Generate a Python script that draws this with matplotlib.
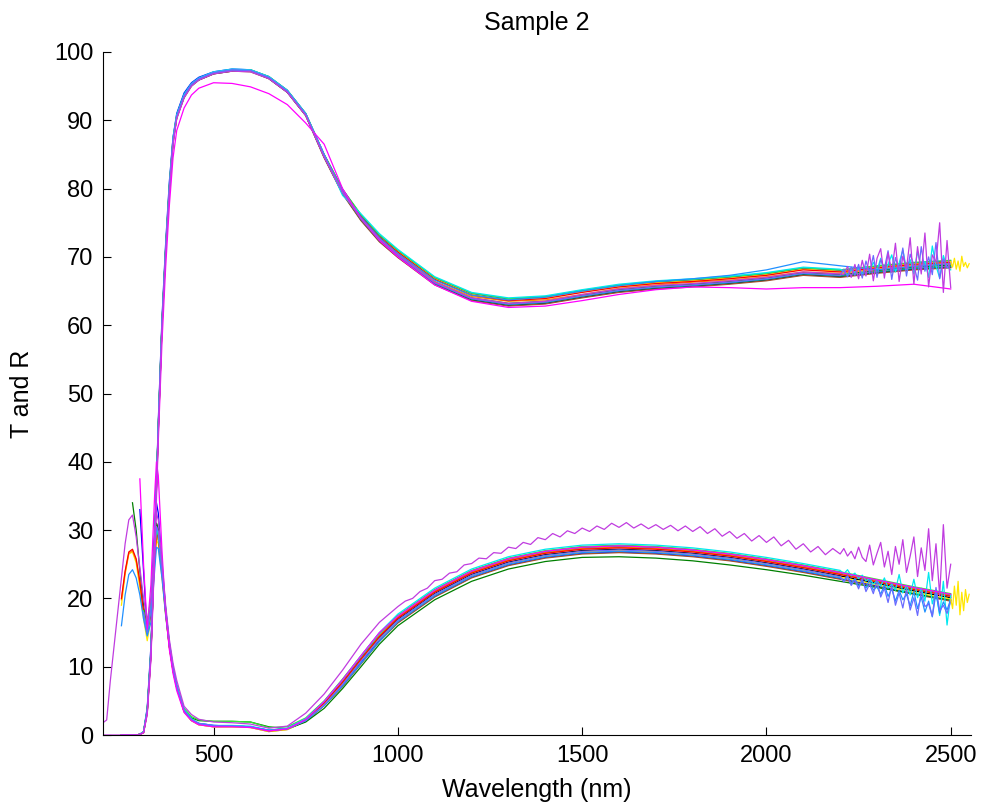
import numpy as np
import matplotlib
matplotlib.use('Agg')
import matplotlib.pyplot as plt

n = np.nan

# wavelength grid (nm)
W = [200, 210, 220, 230, 240, 250, 260, 270, 280, 290, 300, 310, 320, 330, 340, 345, 350,
     360, 370, 380, 390, 400, 420, 440, 460, 500, 550, 600, 650, 700, 750, 800, 850, 900,
     950, 1000, 1100, 1200, 1300, 1400, 1500, 1600, 1700, 1800, 1900, 2000, 2100, 2200,
     2300, 2400, 2500]
WT = list(range(2200, 2510, 10))   # noisy tail grid
WD = list(range(1000, 2210, 20))   # dense grid for the high purple reflectance
WY = list(range(2500, 2555, 5))    # yellow extension grid

Z = [n, n, n, n, n, 0, 0, 0, 0, 0, 0.1]

# ---------------- transmission ----------------
T_yellow = Z + [0.3, 3.3, 11.8, 27.6, 36.2, 44.7, 59.7, 70.7, 79.8, 86.8,
                90.4, 93.5, 95.1, 96.0, 96.9, 97.3, 97.2, 96.2, 94.2, 90.8,
                84.8, 79.6, 75.8, 72.9, 70.8, 66.8, 64.5, 63.7, 64.0, 64.9,
                65.7, 66.2, 66.5, 66.9, 67.4, 68.2, 67.9, 68.5, 69.0, 69.3]
T_orange = Z + [0.4, 3.5, 12.1, 28.1, 36.6, 45.1, 60.1, 71.1, 80.1, 87.1,
                90.6, 93.6, 95.2, 96.0, 96.9, 97.3, 97.3, 96.3, 94.3, 90.9,
                84.9, 79.7, 75.8, 72.8, 70.5, 66.4, 64.2, 63.5, 63.7, 64.5,
                65.4, 65.9, 66.3, 66.6, 67.1, 67.8, 67.6, 68.2, 68.7, 69.0]
T_red = Z + [0.4, 3.6, 12.2, 28.2, 36.6, 45.2, 60.2, 71.2, 80.2, 87.2,
             90.6, 93.6, 95.3, 96.1, 97.0, 97.4, 97.3, 96.3, 94.3, 90.9,
             84.9, 79.7, 75.9, 72.9, 70.7, 66.7, 64.4, 63.6, 63.9, 64.8,
             65.6, 66.1, 66.4, 66.8, 67.3, 68.1, 67.8, 68.4, 68.9, 69.2]
T_lime = Z + [0.5, 3.7, 12.4, 28.4, 36.9, 45.4, 60.4, 71.4, 80.4, 87.4,
              90.7, 93.7, 95.3, 96.1, 97.0, 97.4, 97.4, 96.4, 94.4, 91.0,
              85.0, 79.9, 76.2, 73.2, 71.0, 67.0, 64.7, 63.9, 64.2, 65.1,
              65.9, 66.4, 66.7, 67.1, 67.6, 68.4, 68.1, 68.7, 69.2, 69.5]
T_green = Z + [0.4, 3.5, 12.0, 27.5, 36.0, 44.5, 60.0, 71.0, 80.0, 87.0,
               90.5, 93.6, 95.2, 96.0, 96.9, 97.3, 97.2, 96.2, 94.2, 90.8,
               84.8, 79.5, 75.7, 72.6, 70.3, 66.3, 64.0, 63.2, 63.5, 64.4,
               65.2, 65.7, 66.0, 66.4, 66.9, 67.7, 67.4, 68.0, 68.5, 68.8]
T_teal = Z + [0.4, 3.5, 12.0, 28.0, 36.5, 45.0, 60.0, 71.0, 80.0, 87.0,
              90.5, 93.5, 95.2, 96.0, 96.9, 97.3, 97.3, 96.2, 94.2, 90.8,
              84.7, 79.4, 75.5, 72.4, 70.1, 66.1, 63.8, 63.0, 63.3, 64.2,
              65.0, 65.5, 65.8, 66.2, 66.7, 67.5, 67.2, 67.8, 68.3, 68.6]
T_brown = Z + [0.3, 3.2, 11.6, 27.4, 36.0, 44.5, 59.6, 70.6, 79.6, 86.6,
               90.3, 93.3, 95.0, 95.9, 96.8, 97.2, 97.1, 96.1, 94.1, 90.7,
               84.5, 79.2, 75.3, 72.2, 69.9, 65.9, 63.6, 62.8, 63.1, 64.0,
               64.8, 65.3, 65.6, 66.0, 66.5, 67.3, 67.0, 67.6, 68.1, 68.4]
T_cyan = Z + [0.5, 3.8, 12.5, 28.5, 37.0, 45.5, 60.5, 71.5, 80.5, 87.5,
              90.8, 93.8, 95.4, 96.2, 97.1, 97.5, 97.4, 96.4, 94.4, 91.0,
              85.0, 79.0, 76.3, 73.4, 71.1, 67.1, 64.8, 64.0, 64.3, 65.2,
              66.0, 66.5, 66.8, 67.2, 67.7, 68.5, 68.2, 68.7, 69.0, 69.2]
T_lblue = Z + [0.4, 3.5, 12.0, 28.0, 36.5, 45.0, 60.0, 71.0, 80.0, 87.0,
               90.5, 93.5, 95.2, 96.0, 96.9, 97.3, 97.3, 96.2, 94.2, 90.8,
               84.8, 79.6, 75.8, 72.8, 70.5, 66.6, 64.4, 63.7, 64.1, 65.0,
               65.8, 66.4, 66.8, 67.3, 68.1, 69.3, 68.7, 68.1, 68.6, 69.0]
T_peri = Z + [0.4, 3.6, 12.2, 28.2, 36.7, 45.2, 60.2, 71.2, 80.2, 87.2,
              90.6, 93.6, 95.3, 96.1, 97.0, 97.4, 97.3, 96.3, 94.3, 90.9,
              84.9, 79.6, 75.7, 72.6, 70.2, 66.2, 63.9, 63.1, 63.4, 64.3,
              65.1, 65.6, 65.9, 66.3, 66.8, 67.6, 67.3, 67.9, 68.4, 68.7]
T_black = Z + [0.4, 3.4, 11.8, 27.8, 36.3, 44.8, 59.8, 70.8, 79.8, 86.8,
               90.4, 93.4, 95.1, 95.9, 96.8, 97.2, 97.2, 96.1, 94.1, 90.7,
               84.6, 79.3, 75.4, 72.3, 70.0, 66.0, 63.7, 62.9, 63.2, 64.1,
               64.9, 65.4, 65.7, 66.1, 66.6, 67.4, 67.1, 67.7, 68.2, 68.5]
T_blue = Z + [0.5, 4.0, 13.0, 29.0, 37.0, 46.0, 61.0, 72.0, 81.0, 87.5,
              91.0, 94.0, 95.5, 96.3, 97.1, 97.5, 97.4, 96.4, 94.4, 91.0,
              85.0, 79.9, 76.1, 73.1, 70.9, 66.9, 64.6, 63.8, 64.1, 65.0,
              65.8, 66.3, 66.6, 67.0, 67.5, 68.3, 68.0, 68.6, 69.1, 69.4]
T_magenta = Z + [0.3, 3.0, 11.0, 26.0, 34.5, 43.0, 57.5, 68.5, 77.5, 84.5,
                 88.5, 91.8, 93.7, 94.7, 95.5, 95.4, 94.9, 93.9, 92.3, 89.6,
                 86.5, 80.0, 75.6, 72.4, 70.0, 65.9, 63.5, 62.6, 62.8, 63.6,
                 64.5, 65.2, 65.6, 65.5, 65.3, 65.5, 65.5, 65.7, 66.0, 65.3]
T_purple = [0, 0, 0, 0, 0, 0, 0, 0, 0, 0, 0.1,
            0.4, 3.2, 11.5, 27.0, 35.5, 44.0, 59.5, 70.5, 79.5, 86.5,
            90.2, 93.3, 95.0, 95.9, 96.8, 97.2, 97.1, 96.1, 94.1, 90.7,
            84.6, 79.4, 75.6, 72.6, 70.3, 66.3, 64.0, 63.2, 63.5, 64.5,
            65.3, 65.8, 66.1, 66.5, 67.0, 67.8, 67.5, 68.1, 68.6, 69.0]

# ---------------- reflection ----------------
R_yellow = [n] * 5 + [19, 23.5, 26.5, 26.8, 25.2, 21.5, 17, 13.8, 17, 25,
                      28.5, 28, 23, 17.5, 12.8, 9.3, 6.9, 3.4, 2.1, 1.5,
                      1.2, 1.2, 1.1, 0.5, 0.8, 2.2, 4.5, 7.6, 10.9, 14.1,
                      16.7, 20.5, 23.3, 25.1, 26.2, 26.8, 27.0, 26.8, 26.4, 25.8,
                      25.0, 24.1, 23.1, 22.0, 20.9, 19.9]
R_orange = [n] * 5 + [19.8, 23.8, 26.6, 27.0, 25.6, 22.2, 17.8, 15.2, 17.3, 25.6,
                      29.0, 28.6, 23.6, 17.8, 13, 9.5, 7, 3.5, 2.2, 1.6,
                      1.3, 1.3, 1.2, 0.6, 0.9, 2.2, 4.6, 7.7, 11.1, 14.5,
                      17.2, 21.0, 23.8, 25.6, 26.7, 27.3, 27.5, 27.3, 26.9, 26.3,
                      25.5, 24.6, 23.6, 22.5, 21.4, 20.4]
R_red = [n] * 5 + [20, 24, 26.8, 27.2, 25.8, 22.5, 18, 15.5, 17.5, 26,
                   29.5, 29, 24, 18, 13, 9.5, 7, 3.5, 2.2, 1.6,
                   1.3, 1.3, 1.2, 0.6, 0.9, 2.3, 4.7, 7.7, 11.1, 14.4,
                   17.1, 20.9, 23.7, 25.5, 26.6, 27.2, 27.4, 27.2, 26.8, 26.2,
                   25.4, 24.5, 23.5, 22.4, 21.3, 20.3]
R_lime = [n] * 11 + [18.2, 15.3, 18.6, 27, 30, 29.2, 24.3, 18.3, 13.3, 9.8,
                     7.3, 3.9, 2.7, 2.2, 2.0, 2.0, 1.9, 1.1, 1.2, 2.5,
                     5.0, 8.2, 11.6, 14.9, 17.5, 21.3, 24.1, 25.9, 27.0, 27.6,
                     27.8, 27.6, 27.2, 26.6, 25.8, 24.9, 23.9, 22.8, 21.7, 20.7]
R_green = [n] * 8 + [34, 30, 24, 19, 14.5, 18, 27, 31, 30, 24,
                     18, 13, 9.5, 7, 3.6, 2.5, 2.1, 2.0, 2.0, 1.9,
                     1.2, 0.9, 1.9, 3.9, 6.8, 10.0, 13.3, 16.0, 19.8, 22.5,
                     24.3, 25.4, 26.0, 26.1, 25.9, 25.5, 24.9, 24.2, 23.4, 22.5,
                     21.6, 20.7, 19.8]
R_teal = [n] * 11 + [18, 15.2, 18.4, 26.5, 29.8, 29, 24, 18, 13, 9.5,
                     7, 3.5, 2.2, 1.6, 1.3, 1.3, 1.2, 0.6, 0.9, 2.3,
                     4.7, 7.8, 11.3, 14.6, 17.3, 21.1, 23.9, 25.7, 26.8, 27.4,
                     27.6, 27.4, 27.0, 26.4, 25.6, 24.7, 23.7, 22.6, 21.5, 20.5]
R_brown = [n] * 11 + [18.5, 15.6, 18.8, 26.2, 29.2, 28.6, 23.6, 17.8, 12.9, 9.4,
                      6.9, 3.4, 2.1, 1.5, 1.2, 1.2, 1.1, 0.5, 0.8, 2.0,
                      4.3, 7.1, 10.4, 13.7, 16.4, 20.2, 23.0, 24.8, 25.9, 26.5,
                      26.7, 26.5, 26.1, 25.5, 24.7, 23.8, 22.8, 21.7, 20.6, 19.6]
R_cyan = [n] * 11 + [17.5, 15, 18.5, 27, 30.5, 29.5, 24.5, 18.5, 13.5, 10,
                     7.3, 3.7, 2.4, 1.7, 1.4, 1.4, 1.3, 0.7, 1.0, 2.4,
                     4.9, 8.1, 11.6, 15.0, 17.7, 21.5, 24.3, 26.1, 27.2, 27.8,
                     28.0, 27.8, 27.4, 26.8, 26.0, 25.1, 24.1, 22.9, 21.6, 20.3]
R_lblue = [n] * 5 + [16, 20.5, 23.5, 24.2, 23, 20.5, 17, 14.5, 16.5, 24,
                     27.5, 27.3, 23, 17.5, 13, 9.5, 7, 3.5, 2.2, 1.6,
                     1.3, 1.3, 1.2, 0.7, 0.9, 2.1, 4.3, 7.2, 10.5, 13.7,
                     16.6, 20.4, 23.2, 25.0, 26.1, 26.7, 26.9, 26.7, 26.3, 25.7,
                     24.9, 24.0, 23.0, 21.9, 20.8, 19.8]
R_peri = [n] * 11 + [18, 15, 18.5, 27, 30.5, 29.8, 24.2, 18.2, 13.2, 9.7,
                     7.1, 3.6, 2.3, 1.7, 1.4, 1.3, 1.2, 0.6, 0.9, 2.1,
                     4.4, 7.4, 10.8, 14.1, 16.8, 20.6, 23.4, 25.2, 26.3, 26.9,
                     27.1, 26.9, 26.5, 25.9, 25.1, 24.2, 23.2, 22.1, 21.0, 19.9]
R_black = [n] * 11 + [17.8, 14.8, 18.2, 27.5, 31, 30, 24.5, 18.2, 13.2, 9.6,
                      7.1, 3.5, 2.2, 1.6, 1.3, 1.3, 1.2, 0.6, 0.9, 2.2,
                      4.6, 7.6, 11.0, 14.2, 16.9, 20.7, 23.5, 25.3, 26.4, 27.0,
                      27.2, 27.0, 26.6, 26.0, 25.2, 24.3, 23.3, 22.2, 21.1, 20.1]
R_blue = [n] * 10 + [33, 24, 15, 19, 30, 34, 32.5, 25, 18.5, 13.5,
                     10, 7.2, 3.6, 2.3, 1.7, 1.4, 1.3, 1.2, 0.7, 0.9,
                     2.1, 4.4, 7.3, 10.6, 13.9, 16.5, 20.3, 23.1, 24.9, 26.0,
                     26.6, 26.8, 26.6, 26.2, 25.6, 24.8, 23.9, 22.9, 21.8, 20.7,
                     19.7]
R_magenta = [n] * 10 + [37.5, 25, 15.5, 22, 35, 40, 38, 27, 18, 12.5,
                        9, 6.5, 3.3, 2.1, 1.5, 1.2, 1.2, 1.1, 0.6, 0.9,
                        2.3, 4.9, 8.1, 11.6, 15.0, 17.4, 21.2, 24.0, 25.8, 26.9,
                        27.5, 27.7, 27.5, 27.1, 26.5, 25.7, 24.8, 23.8, 22.7, 21.6,
                        20.6]
R_purple = [1.8, 2.2, 8, 13, 18, 23, 28, 31.5, 32.2, 29,
            24.5, 20, 16.8, 20, 29, 32.5, 31.5, 25.5, 19, 14,
            10.5, 8, 4.2, 3.0, 2.3, 1.9, 1.8, 1.6, 1.0, 1.3,
            3.2, 6.0, 9.5, 13.3, 16.5, 18.8, 22.5, 25.3, 27.3, 29.0,
            30.0, 30.6, 30.5, 30.1, 29.4, 28.6, 27.7, 26.7, 26.0, 25.5, 25.3]
# dense purple reflectance 1000-2200 nm (visibly jagged in the picture)
R_purple_dense = [18.8, 19.6, 20.0, 21.0, 21.5, 22.6, 22.8, 23.7, 23.9, 24.9,
                  25.1, 25.9, 25.8, 26.7, 26.6, 27.5, 27.3, 28.2, 27.9, 28.9,
                  28.6, 29.5, 29.0, 29.9, 29.5, 30.3, 29.8, 30.6, 30.1, 31.0,
                  30.4, 31.1, 30.3, 30.9, 30.2, 30.8, 30.1, 30.7, 29.9, 30.6,
                  29.8, 30.5, 29.5, 30.2, 29.1, 29.8, 28.8, 29.5, 28.4, 29.2,
                  28.2, 29.0, 27.7, 28.5, 27.2, 28.0, 26.8, 27.6, 26.4, 27.3,
                  26.5]

# ---------------- noisy tails (2200-2500 nm) ----------------
T_cyan_tail = [67.6, 67.9, 67.4, 68.1, 67.7, 68.3, 67.5, 68.6, 67.9, 69.2, 68.0, 69.8,
               67.6, 68.9, 70.3, 67.8, 69.1, 71.0, 68.2, 69.6, 67.5, 70.8, 68.4, 69.3,
               67.0, 71.6, 68.7, 66.9, 70.2, 68.5, 68.1]
R_cyan_tail = [24.1, 23.6, 24.2, 23.3, 23.7, 22.9, 23.4, 22.6, 22.9, 22.1, 22.6, 21.8,
               23.0, 21.5, 22.1, 21.2, 23.5, 20.8, 21.9, 20.5, 22.8, 20.1, 21.5, 19.6,
               23.8, 19.2, 21.0, 17.5, 22.5, 16.1, 20.5]
R_lblue_tail = [23.0, 22.6, 23.3, 22.2, 22.9, 21.8, 22.5, 21.5, 22.8, 21.2, 21.7, 20.6,
                22.0, 20.3, 21.4, 19.6, 21.2, 19.8, 20.6, 18.9, 21.0, 18.5, 20.2, 18.0,
                19.6, 17.3, 20.8, 17.8, 19.5, 18.3, 19.9]
T_peri_tail = [67.3, 68.2, 67.1, 68.5, 67.3, 68.9, 66.9, 69.4, 67.6, 70.2, 67.0, 69.6,
               68.3, 70.9, 66.7, 69.9, 68.0, 71.3, 67.2, 70.4, 68.8, 66.6, 71.5, 67.9,
               70.0, 67.4, 72.1, 66.8, 69.7, 68.4, 69.2]
R_peri_tail = [23.2, 22.4, 23.2, 21.9, 22.7, 21.4, 22.9, 21.0, 22.1, 20.7, 22.6, 20.2,
               21.5, 19.4, 21.9, 19.0, 20.8, 18.6, 21.4, 18.3, 20.1, 17.5, 21.0, 18.8,
               19.2, 17.4, 21.6, 18.2, 19.0, 17.8, 19.6]
T_purple_tail = [67.5, 67.4, 68.6, 67.0, 68.9, 66.8, 69.5, 67.2, 70.4, 66.5, 69.8, 71.2,
                 66.9, 70.6, 67.8, 72.0, 66.4, 70.1, 68.3, 72.8, 66.0, 71.5, 67.5, 73.5,
                 65.6, 70.3, 69.2, 75.0, 64.8, 72.4, 65.5]
R_purple_tail = [26.5, 27.3, 26.2, 26.9, 25.8, 27.5, 26.0, 25.4, 27.8, 24.9, 26.6, 28.2,
                 24.6, 26.9, 23.5, 27.6, 25.0, 28.6, 23.8, 26.2, 29.0, 23.2, 27.4, 24.1,
                 30.2, 22.6, 28.0, 20.4, 30.8, 21.5, 25.0]

# yellow extension (2500-2550 nm)
T_yellow_ext = [69.3, 68.5, 69.8, 68.2, 69.4, 67.9, 70.1, 68.6, 69.2, 68.4, 69.0]
R_yellow_ext = [19.9, 18.5, 21.8, 19.0, 22.5, 17.6, 20.9, 18.2, 21.3, 19.4, 20.6]

# ---------------- figure ----------------
plt.rcParams['font.family'] = ['Liberation Sans', 'DejaVu Sans']
fig = plt.figure(figsize=(9.82, 8.10), dpi=100)
ax = fig.add_axes([103 / 982, 1 - 735 / 810, 868 / 982, 683 / 810])

samples = [
    ('#0000ff', T_blue, R_blue, None, None),
    ('#000000', T_black, R_black, None, None),
    ('#a0522d', T_brown, R_brown, None, None),
    ('#009c9c', T_teal, R_teal, None, None),
    ('#008000', T_green, R_green, None, None),
    ('#ffe600', T_yellow, R_yellow, None, None),
    ('#ff8c00', T_orange, R_orange, None, None),
    ('#ff0000', T_red, R_red, None, None),
    ('#33e833', T_lime, R_lime, None, None),
    ('#00e8f0', T_cyan, R_cyan, T_cyan_tail, R_cyan_tail),
    ('#2090ff', T_lblue, R_lblue, None, R_lblue_tail),
    ('#6a6aff', T_peri, R_peri, T_peri_tail, R_peri_tail),
    ('#ff00ff', T_magenta, R_magenta, None, None),
]

lw = 0.9
n_main = W.index(2200) + 1
for color, T, R, Tt, Rt in samples:
    for main, tail in ((T, Tt), (R, Rt)):
        if tail is None:
            ax.plot(W, main, color=color, lw=lw)
        else:
            ax.plot(W[:n_main] + WT[1:], main[:n_main] + tail[1:], color=color, lw=lw)

# purple sample: transmission with noisy tail, reflectance dense + noisy tail
PC = '#c03ce0'
ax.plot(W[:n_main] + WT[1:], T_purple[:n_main] + T_purple_tail[1:], color=PC, lw=lw)
n_d = W.index(1000)
ax.plot(W[:n_d] + WD + WT[1:], R_purple[:n_d] + R_purple_dense + R_purple_tail[1:],
        color=PC, lw=lw)

ax.plot(WY, T_yellow_ext, color='#ffe600', lw=lw)
ax.plot(WY, R_yellow_ext, color='#ffe600', lw=lw)

ax.set_xlim(200, 2555)
ax.set_ylim(0, 100)
ax.set_xticks([500, 1000, 1500, 2000, 2500])
ax.set_yticks(range(0, 101, 10))
for s in ('top', 'right'):
    ax.spines[s].set_visible(False)
for s in ('left', 'bottom'):
    ax.spines[s].set_linewidth(0.8)
ax.tick_params(direction='in', length=6, width=0.8, labelsize=17, pad=7,
               top=False, right=False)

ax.set_title('Sample 2', fontsize=18, pad=16)
ax.set_xlabel('Wavelength (nm)', fontsize=18, labelpad=8)
ax.set_ylabel('T and R', fontsize=18, labelpad=14)

fig.savefig('out.png', dpi=100)
